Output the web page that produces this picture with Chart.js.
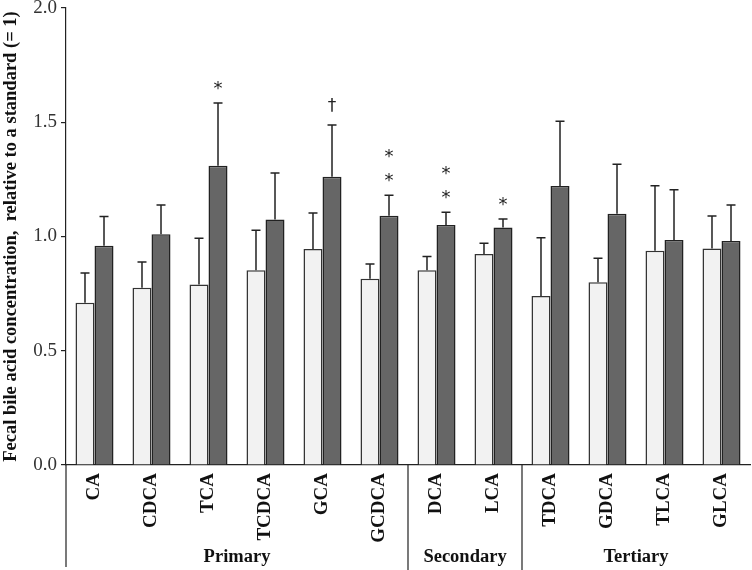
<!DOCTYPE html>
<html>
<head>
<meta charset="utf-8">
<script src="https://cdn.jsdelivr.net/npm/chart.js@4"></script>
<style>
  html, body { margin: 0; padding: 0; background: #fff; }
  #wrap { width: 752px; height: 570px; position: relative; }
</style>
</head>
<body>
<div id="wrap"><canvas id="bileChart"></canvas></div>
<script>
// === Data ===
const categories = ["CA", "CDCA", "TCA", "TCDCA", "GCA", "GCDCA", "DCA", "LCA", "TDCA", "GDCA", "TLCA", "GLCA"];
const controlMean = [0.71, 0.776, 0.79, 0.852, 0.945, 0.815, 0.852, 0.923, 0.74, 0.80, 0.938, 0.948];
const controlSE   = [0.13, 0.112, 0.202, 0.175, 0.158, 0.065, 0.06, 0.047, 0.255, 0.105, 0.284, 0.142];
const treatMean   = [0.96, 1.01, 1.31, 1.074, 1.262, 1.091, 1.05, 1.039, 1.221, 1.10, 0.985, 0.98];
const treatSE     = [0.127, 0.128, 0.274, 0.204, 0.226, 0.089, 0.056, 0.038, 0.283, 0.216, 0.22, 0.158];
const treatMarks  = ["", "", "*", "", "\u2020", "**", "**", "*", "", "", "", ""];
const groupNames  = ["Primary", "Secondary", "Tertiary"];
const groupStart  = [0, 6, 8];
const groupEnd    = [5, 7, 11];
const yTicks      = [0, 0.5, 1.0, 1.5, 2.0];

const serif = "'Liberation Serif', 'Times New Roman', serif";

// === error bars + significance marks ===
const errorBars = {
    id: "errorBars",
    afterDatasetsDraw(chart) {
        const c = chart.ctx;
        const y = chart.scales.y;
        const errs = [controlSE, treatSE];
        c.save();
        chart.data.datasets.forEach((ds, di) => {
            const meta = chart.getDatasetMeta(di);
            meta.data.forEach((bar, i) => {
                const top = y.getPixelForValue(ds.data[i] + errs[di][i]);
                c.strokeStyle = "#222";
                c.lineWidth = 1.5;
                c.beginPath();
                c.moveTo(bar.x, bar.y);
                c.lineTo(bar.x, top);
                c.moveTo(bar.x - 4.5, top);
                c.lineTo(bar.x + 4.5, top);
                c.stroke();
                if (di === 1 && treatMarks[i]) {
                    c.fillStyle = "#222";
                    c.textAlign = "center";
                    c.textBaseline = "middle";
                    treatMarks[i].split("").forEach((ch, k) => {
                        const isStar = ch === "*";
                        c.font = (isStar ? "18px " : "17px ") + "'DejaVu Sans', sans-serif";
                        c.fillText(ch, bar.x, top - 16 - k * 24 + (isStar ? 2 : -2));
                    });
                }
            });
        });
        c.restore();
    }
};

// === group separators and group names under the axis ===
const groupAxis = {
    id: "groupAxis",
    afterDraw(chart) {
        const c = chart.ctx;
        const x = chart.scales.x;
        const area = chart.chartArea;
        const half = (x.getPixelForValue(1) - x.getPixelForValue(0)) / 2;
        c.save();
        c.strokeStyle = "#222";
        c.lineWidth = 1.2;
        c.beginPath();
        c.moveTo(area.left, area.bottom);
        c.lineTo(area.left, chart.height - 3);
        for (let g = 1; g < groupNames.length; g++) {
            const bx = x.getPixelForValue(groupStart[g]) - half;
            c.moveTo(bx, area.bottom);
            c.lineTo(bx, chart.height);
        }
        c.stroke();
        c.fillStyle = "#111";
        c.font = "bold 18.5px " + serif;
        c.textAlign = "center";
        c.textBaseline = "middle";
        groupNames.forEach((name, g) => {
            const l = x.getPixelForValue(groupStart[g]) - half;
            const r = x.getPixelForValue(groupEnd[g]) + half;
            c.fillText(name, (l + r) / 2, 557);
        });
        c.restore();
    }
};

const ctx = document.getElementById("bileChart").getContext("2d");
new Chart(ctx, {
    type: "bar",
    data: {
        labels: categories,
        datasets: [
            {
                label: "Control",
                data: controlMean,
                backgroundColor: "#f2f2f2",
                borderColor: "#333",
                borderWidth: 1.5,
                categoryPercentage: 0.667,
                barPercentage: 1.0,
            },
            {
                label: "Treatment",
                data: treatMean,
                backgroundColor: "#666666",
                borderColor: "#222",
                borderWidth: 1.5,
                categoryPercentage: 0.667,
                barPercentage: 1.0,
            },
        ],
    },
    options: {
        responsive: true,
        maintainAspectRatio: false,
        animation: false,
        layout: { padding: { top: 8, right: 2, left: 0, bottom: 0 } },
        plugins: {
            legend: { display: false },
            tooltip: { enabled: false },
        },
        scales: {
            y: {
                min: 0,
                max: 2,
                afterFit(s) {
                    s.width = 66;
                    s.paddingTop = 0;
                    s.paddingBottom = 0;
                },
                afterBuildTicks(s) { s.ticks = yTicks.map((v) => ({ value: v })); },
                ticks: {
                    color: "#333",
                    font: { family: serif, size: 19 },
                    padding: 4,
                    callback: (v) => v.toFixed(1),
                },
                grid: { drawOnChartArea: false, drawTicks: true, tickLength: 5, color: "#222", lineWidth: 1.2 },
                border: { display: true, color: "#222", width: 1.2 },
                title: {
                    display: true,
                    text: "Fecal bile acid concentration,  relative to a standard (= 1)",
                    color: "#111",
                    font: { family: serif, size: 18.5, weight: "bold" },
                    padding: { top: 0, bottom: 0 },
                },
            },
            x: {
                afterFit(s) {
                    s.height = 105;
                    s.paddingLeft = 0;
                    s.paddingRight = 0;
                },
                ticks: {
                    color: "#111",
                    font: { family: serif, size: 19, weight: "bold" },
                    minRotation: 90,
                    maxRotation: 90,
                    padding: 0,
                    autoSkip: false,
                },
                grid: { display: false },
                border: { display: true, color: "#222", width: 1.2 },
            },
        },
    },
    plugins: [errorBars, groupAxis],
});
</script>
</body>
</html>
